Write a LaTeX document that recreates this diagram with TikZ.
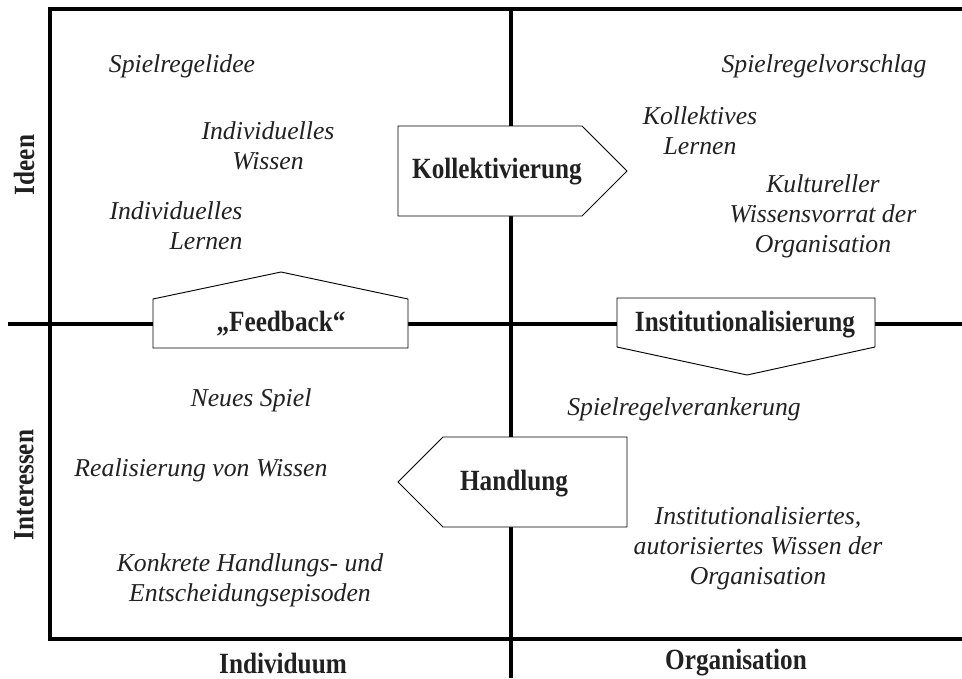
\documentclass[tikz,border=0pt]{standalone}
\usepackage{fontspec}
\setmainfont{Liberation Serif}
\newfontfamily\narrowserif{Liberation Serif}[FakeStretch=0.86]
\begin{document}
\begin{tikzpicture}[x=0.75pt,y=-0.75pt,
  axisline/.style={line width=2.4pt,black},
  flowbox/.style={draw=black,fill=white,line width=0.7pt,line join=miter},
  idea/.style={font=\fontsize{19.3}{22.5}\selectfont\itshape,text=black!87,align=center,inner sep=0pt},
  flowlabel/.style={font=\narrowserif\fontsize{22}{24}\selectfont\bfseries,text=black!87,inner sep=0pt},
  axislabel/.style={font=\narrowserif\fontsize{22}{24}\selectfont\bfseries,text=black!87,inner sep=0pt}]
\useasboundingbox (0,0) rectangle (962,678);

% frame and quadrant axes
\coordinate (tl) at (50,9);
\coordinate (tr) at (962,9);
\coordinate (bl) at (50,639);
\coordinate (br) at (962,639);
\coordinate (ml) at (8,324);
\coordinate (mr) at (962,324);
\coordinate (vt) at (511,9);
\coordinate (vb) at (511,678);
\draw[axisline,line cap=rect] (tr) -- (tl) -- (bl) -- (br);
\draw[axisline] (ml) -- (mr);
\draw[axisline] (vt) -- (vb);

% process arrows
\draw[flowbox] (398,126) -- (582,126) -- (627,171) -- (582,216) -- (398,216) -- cycle;
\node[flowlabel] (kol) at (497,172) {Kollektivierung};

\draw[flowbox] (153,348) -- (153,299) -- (281,272) -- (408,299) -- (408,348) -- cycle;
\node[flowlabel] (fb) at (281,324) {„Feedback“};

\draw[flowbox] (617,298) -- (875,298) -- (875,347) -- (747,375) -- (617,347) -- cycle;
\node[flowlabel] (inst) at (745,325) {Institutionalisierung};

\draw[flowbox] (627,437) -- (443,437) -- (398,482) -- (443,527) -- (627,527) -- cycle;
\node[flowlabel] (hand) at (514,484) {Handlung};

% quadrant contents
\node[idea] (t1) at (182,66) {Spielregelidee};
\node[idea] (t2) at (268,146) {Individuelles\\Wissen};
\node[idea,align=right] (t3) at (176,226) {Individuelles\\Lernen};
\node[idea] (t4) at (824,66) {Spielregelvorschlag};
\node[idea] (t5) at (700,131) {Kollektives\\Lernen};
\node[idea] (t6) at (823,216) {Kultureller\\Wissensvorrat der\\Organisation};
\node[idea] (t7) at (251,400) {Neues Spiel};
\node[idea] (t8) at (201,470) {Realisierung von Wissen};
\node[idea] (t9) at (250,580) {Konkrete Handlungs- und\\Entscheidungsepisoden};
\node[idea] (t10) at (684,409) {Spielregelverankerung};
\node[idea] (t11) at (758,548) {Institutionalisiertes,\\autorisiertes Wissen der\\Organisation};

% axis captions
\node[axislabel,rotate=90] (ideen) at (24,165) {Ideen};
\node[axislabel,rotate=90] (inter) at (24,485) {Interessen};
\node[axislabel] (indiv) at (283,663) {Individuum};
\node[axislabel] (orga) at (736,663) {Organisation};
\end{tikzpicture}
\end{document}
